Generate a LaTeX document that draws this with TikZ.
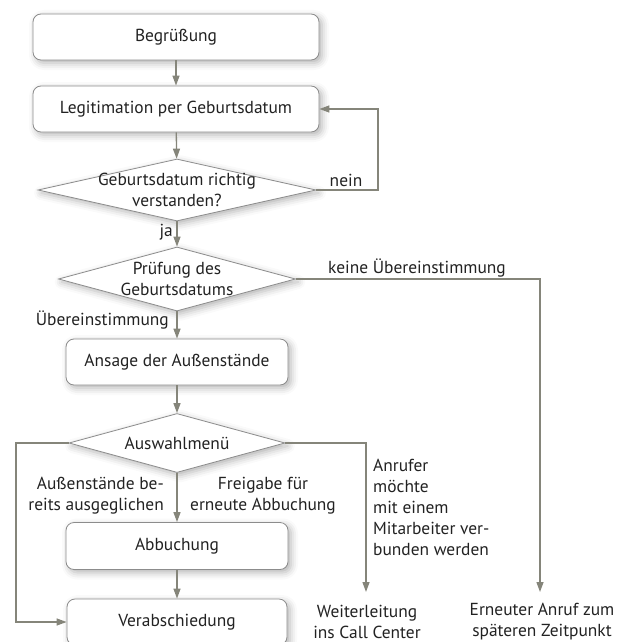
\documentclass[tikz,border=0pt]{standalone}
\usepackage{fontspec}
\setmainfont{PT Sans}
\usetikzlibrary{shapes.geometric,arrows.meta,shadows.blur}
\definecolor{linec}{HTML}{85857A}
\definecolor{boxc}{HTML}{8C8C8C}
\definecolor{txtc}{HTML}{222222}
\begin{document}
\begin{tikzpicture}[x=1pt,y=-1pt,
  every node/.style={text=txtc,font=\fontsize{17.4}{21}\selectfont},
  shad/.style={blur shadow={shadow xshift=3pt,shadow yshift=-3pt,shadow blur radius=7pt,shadow opacity=30}},
  box/.style={draw=boxc,line width=0.8pt,rounded corners=8pt,fill=white,shad,minimum height=46pt,inner sep=0pt},
  dia/.style={draw=boxc,line width=0.8pt,diamond,fill=white,shad,inner sep=0pt},
  dtext/.style={align=center,inner sep=0pt},
  lab/.style={inner sep=0pt},
  conn/.style={draw=linec,line width=1.3pt,-{Triangle[length=10pt,width=7pt]}},
  plain/.style={draw=linec,line width=1.3pt}]
\useasboundingbox (0,0) rectangle (621,642);
\node[box,minimum width=286pt] (begr) at (176,37) {Begrüßung};
\node[box,minimum width=286pt] (legit) at (176,109) {Legitimation per Geburtsdatum};
\node[dia,minimum width=278pt,minimum height=62pt] (d1) at (177,190) {};
\node[dtext] at (d1) {Geburtsdatum richtig\\verstanden?};
\node[dia,minimum width=237pt,minimum height=64pt] (d2) at (177,279) {};
\node[dtext] at (d2) {Prüfung des\\Geburtsdatums};
\node[box,minimum width=222pt] (ans) at (177,362) {Ansage der Außenstände};
\node[dia,minimum width=216pt,minimum height=59pt] (d3) at (177,443) {};
\node[dtext] at (d3) {Auswahlmenü};
\node[box,minimum width=222pt,minimum height=47pt] (abb) at (177,546) {Abbuchung};
\node[box,minimum width=220pt] (verab) at (177,622) {Verabschiedung};
\node[dtext] (weiter) at (367,622) {Weiterleitung\\ins Call Center};
\node[dtext] (erneut) at (542,622) {Erneuter Anruf zum\\späteren Zeitpunkt};
\coordinate (wend) at (366,592);
\coordinate (eend) at (540,592);
% connectors
\draw[conn] (begr) -- (legit);
\draw[conn] (legit) -- (d1);
\coordinate (neinc) at (378,190);
\draw[conn] (d1.east) -- (neinc) |- (legit.east);
\node[lab] at (346,180) {nein};
\draw[conn] (d1.south) -- (d2.north);
\node[lab,anchor=east] at (173,232) {ja};
\draw[conn] (d2.east) -| (eend);
\node[lab] at (417,268) {keine Übereinstimmung};
\draw[conn] (d2.south) -- (ans.north);
\node[lab,anchor=east] at (169,320) {Übereinstimmung};
\draw[conn] (ans) -- (d3);
\coordinate (lc) at (16,443);
\draw[conn] (d3.west) -- (lc) |- (verab.west);
\draw[conn] (d3.south) -- (abb.north);
\draw[conn] (d3.east) -| (wend);
\draw[conn] (abb) -- (verab);
\node[lab,align=right,anchor=east] at (164,496) {Außenstände be-\\reits ausgeglichen};
\node[lab,align=center] at (263,496) {Freigabe für\\erneute Abbuchung};
\node[lab,align=left,anchor=west] at (373,507) {Anrufer\\möchte\\mit einem\\Mitarbeiter ver-\\bunden werden};
\end{tikzpicture}
\end{document}
